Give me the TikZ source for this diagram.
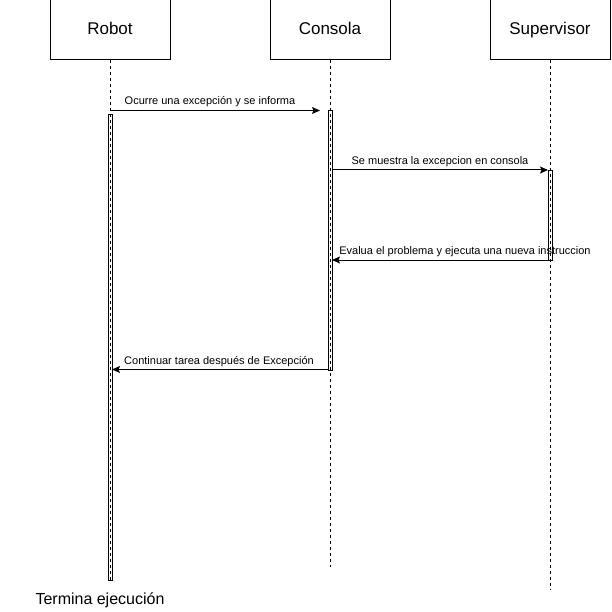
\documentclass[tikz,border=0pt]{standalone}
\usepackage{fontspec}
\setmainfont{Liberation Sans}
\usetikzlibrary{arrows.meta}
\begin{document}
\begin{tikzpicture}[x=1pt,y=-1pt,line width=1pt,
  actor/.style={draw,minimum width=120pt,minimum height=60pt,font=\fontsize{17}{20}\selectfont,inner sep=0pt,text height=12pt,text depth=3.5pt},
  life/.style={line width=0.8pt,dash pattern=on 3pt off 3pt},
  bar/.style={draw,line width=0.8pt},
  msg/.style={-{Stealth[length=8pt,width=7pt,inset=1.5pt]}},
  lbl/.style={font=\fontsize{11}{13}\selectfont,inner sep=0pt}]
\useasboundingbox (0,0) rectangle (611,612);
\node[actor] (robot) at (110,30) {Robot};
\node[actor] (consola) at (330,30) {Consola};
\node[actor] (sup) at (550,30) {Supervisor};
\coordinate (rEnd) at (110,580);
\coordinate (cEnd) at (330,567);
\coordinate (sEnd) at (550,590);
\draw[life] (robot.south) -- (rEnd);
\draw[life] (consola.south) -- (cEnd);
\draw[life] (sup.south) -- (sEnd);
% activation bars
\draw[bar] (108,114) rectangle (112,580);
\draw[bar] (328,110) rectangle (332,370);
\draw[bar] (548,170) rectangle (552,260);
% messages
\coordinate (m1a) at (110,110.5);
\coordinate (m1b) at (320,110.5);
\draw[msg] (m1a) -- (m1b);
\node[lbl] (l1) at (210,101.5) {Ocurre una excepción y se informa};
\coordinate (m2a) at (332,170);
\coordinate (m2b) at (548,170);
\draw[msg] (m2a) -- (m2b);
\node[lbl] (l2) at (440,161.5) {Se muestra la excepcion en consola};
\coordinate (m3a) at (548,260);
\coordinate (m3b) at (332,260);
\draw[msg] (m3a) -- (m3b);
\node[lbl] (l3) at (465,251.5) {Evalua el problema y ejecuta una nueva instruccion};
\coordinate (m4a) at (328,369.5);
\coordinate (m4b) at (112,369.5);
\draw[msg] (m4a) -- (m4b);
\node[lbl] (l4) at (219,361.5) {Continuar tarea después de Excepción};
\node[font=\fontsize{16}{19}\selectfont,inner sep=0pt] (fin) at (100,600) {Termina ejecución};
\end{tikzpicture}
\end{document}
